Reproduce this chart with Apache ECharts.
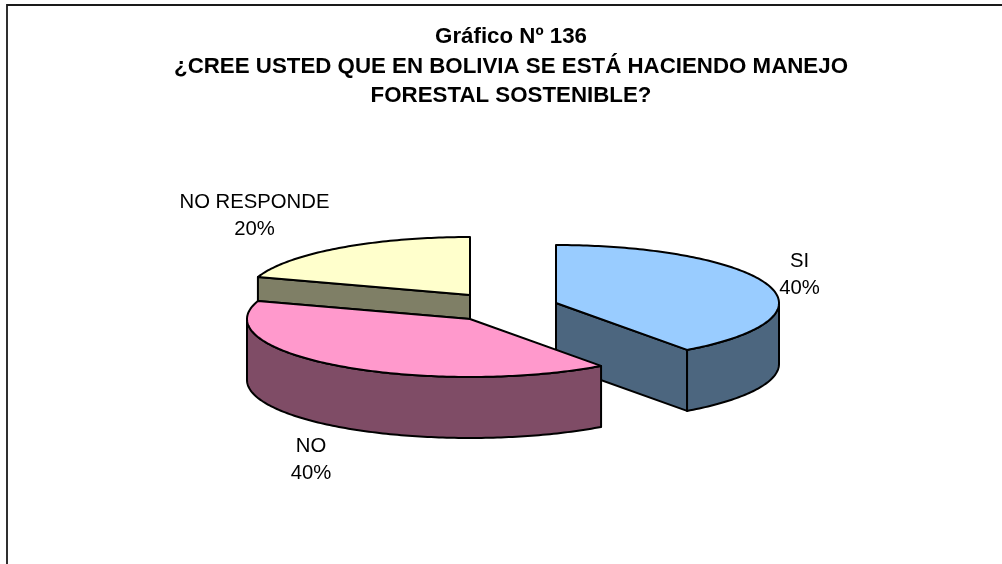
<!DOCTYPE html>
<html>
<head>
<meta charset="utf-8">
<style>
  html, body { margin: 0; padding: 0; background: #fff; }
  #chart { width: 1002px; height: 564px; }
</style>
<script src="https://cdn.jsdelivr.net/npm/echarts@6/dist/echarts.min.js"></script>
</head>
<body>
<div id="chart"></div>
<script>
const categories = ['SI', 'NO', 'NO RESPONDE'];
const values = [40, 40, 20];
const titleLines = ['Gráfico Nº 136', '¿CREE USTED QUE EN BOLIVIA SE ESTÁ HACIENDO MANEJO', 'FORESTAL SOSTENIBLE?'];

const FONT = '"Liberation Sans", Arial, sans-serif';
// ellipse of the pie top and height of the walls
const RX = 223;
const RY = 58;
const DEPTH = 61;
// per slice: pie centre after explode, colours, draw order, label anchor
const sliceStyle = [
  { cx: 556, cy: 303, top: '#99CCFF', side: '#4C667F', z: 1, lx: 799.5, ly: 275 },
  { cx: 470, cy: 319, top: '#FF99CC', side: '#7F4C66', z: 2, lx: 311, ly: 460 },
  { cx: 470, cy: 295, top: '#FFFFCC', side: '#7F7F66', z: 0, lx: 254.5, ly: 216 }
];
const total = values.reduce((a, b) => a + b, 0);

// angle is clockwise from 12 o'clock
function pt(s, deg, drop) {
  const r = deg * Math.PI / 180;
  return [s.cx + RX * Math.sin(r), s.cy - RY * Math.cos(r) + (drop || 0)];
}

function arcPts(s, from, to, drop) {
  const out = [];
  const n = Math.max(2, Math.ceil(Math.abs(to - from)));
  for (let i = 0; i <= n; i++) out.push(pt(s, from + (to - from) * i / n, drop));
  return out;
}

function poly(points, fill, z2) {
  return {
    type: 'polygon',
    z2: z2,
    shape: { points: points },
    style: { fill: fill, stroke: '#000', lineWidth: 2, lineJoin: 'round' }
  };
}

function renderSlice(params, api) {
  const i = params.dataIndex;
  const s = sliceStyle[i];
  const start = values.slice(0, i).reduce((a, b) => a + b, 0) / total * 360;
  const end = start + api.value(0) / total * 360;
  const z = s.z * 10;
  const apex = [s.cx, s.cy];
  const apexLow = [s.cx, s.cy + DEPTH];
  const children = [];

  // cut walls, only the ones that face the viewer
  if (end > 90 && end < 180) {
    children.push(poly([apex, apexLow, pt(s, end, DEPTH), pt(s, end)], s.side, z));
  }
  if (start > 180 && start < 360) {
    children.push(poly([apex, apexLow, pt(s, start, DEPTH), pt(s, start)], s.side, z));
  }
  if (end > 180 && end < 360) {
    children.push(poly([apex, apexLow, pt(s, end, DEPTH), pt(s, end)], s.side, z));
  }

  // outer rim, only the front half of the ellipse
  const a = Math.max(start, 90);
  const b = Math.min(end, 270);
  if (a < b) {
    const rim = arcPts(s, a, b, 0).concat(arcPts(s, b, a, DEPTH));
    children.push(poly(rim, s.side, z + 1));
  }

  // top face
  children.push(poly([apex].concat(arcPts(s, start, end, 0)), s.top, z + 2));

  children.push({
    type: 'text',
    z2: 50,
    style: {
      x: s.lx,
      y: s.ly,
      text: categories[i] + '\n' + api.value(0) + '%',
      fill: '#000',
      font: '20.3px ' + FONT,
      lineHeight: 27.5,
      align: 'center',
      verticalAlign: 'middle'
    }
  });

  return { type: 'group', children: children };
}

const chart = echarts.init(document.getElementById('chart'), null, { renderer: 'canvas' });
chart.setOption({
  animation: false,
  backgroundColor: '#fff',
  title: {
    text: titleLines.join('\n'),
    left: 506,
    top: 17.5,
    textAlign: 'center',
    textStyle: {
      fontFamily: FONT,
      fontSize: 22.3,
      fontWeight: 'bold',
      color: '#000',
      lineHeight: 29.5
    }
  },
  // frame of the sheet, the picture is cut off on the right and at the bottom
  graphic: [{
    type: 'polyline',
    silent: true,
    shape: { points: [[7, 564], [7, 5], [1002, 5]] },
    style: { fill: null, stroke: '#1a1a1a', lineWidth: 1.8 }
  }],
  series: [{
    type: 'custom',
    coordinateSystem: 'none',
    renderItem: renderSlice,
    data: values.map(v => [v])
  }]
});
window.addEventListener('resize', () => chart.resize());
</script>
</body>
</html>
